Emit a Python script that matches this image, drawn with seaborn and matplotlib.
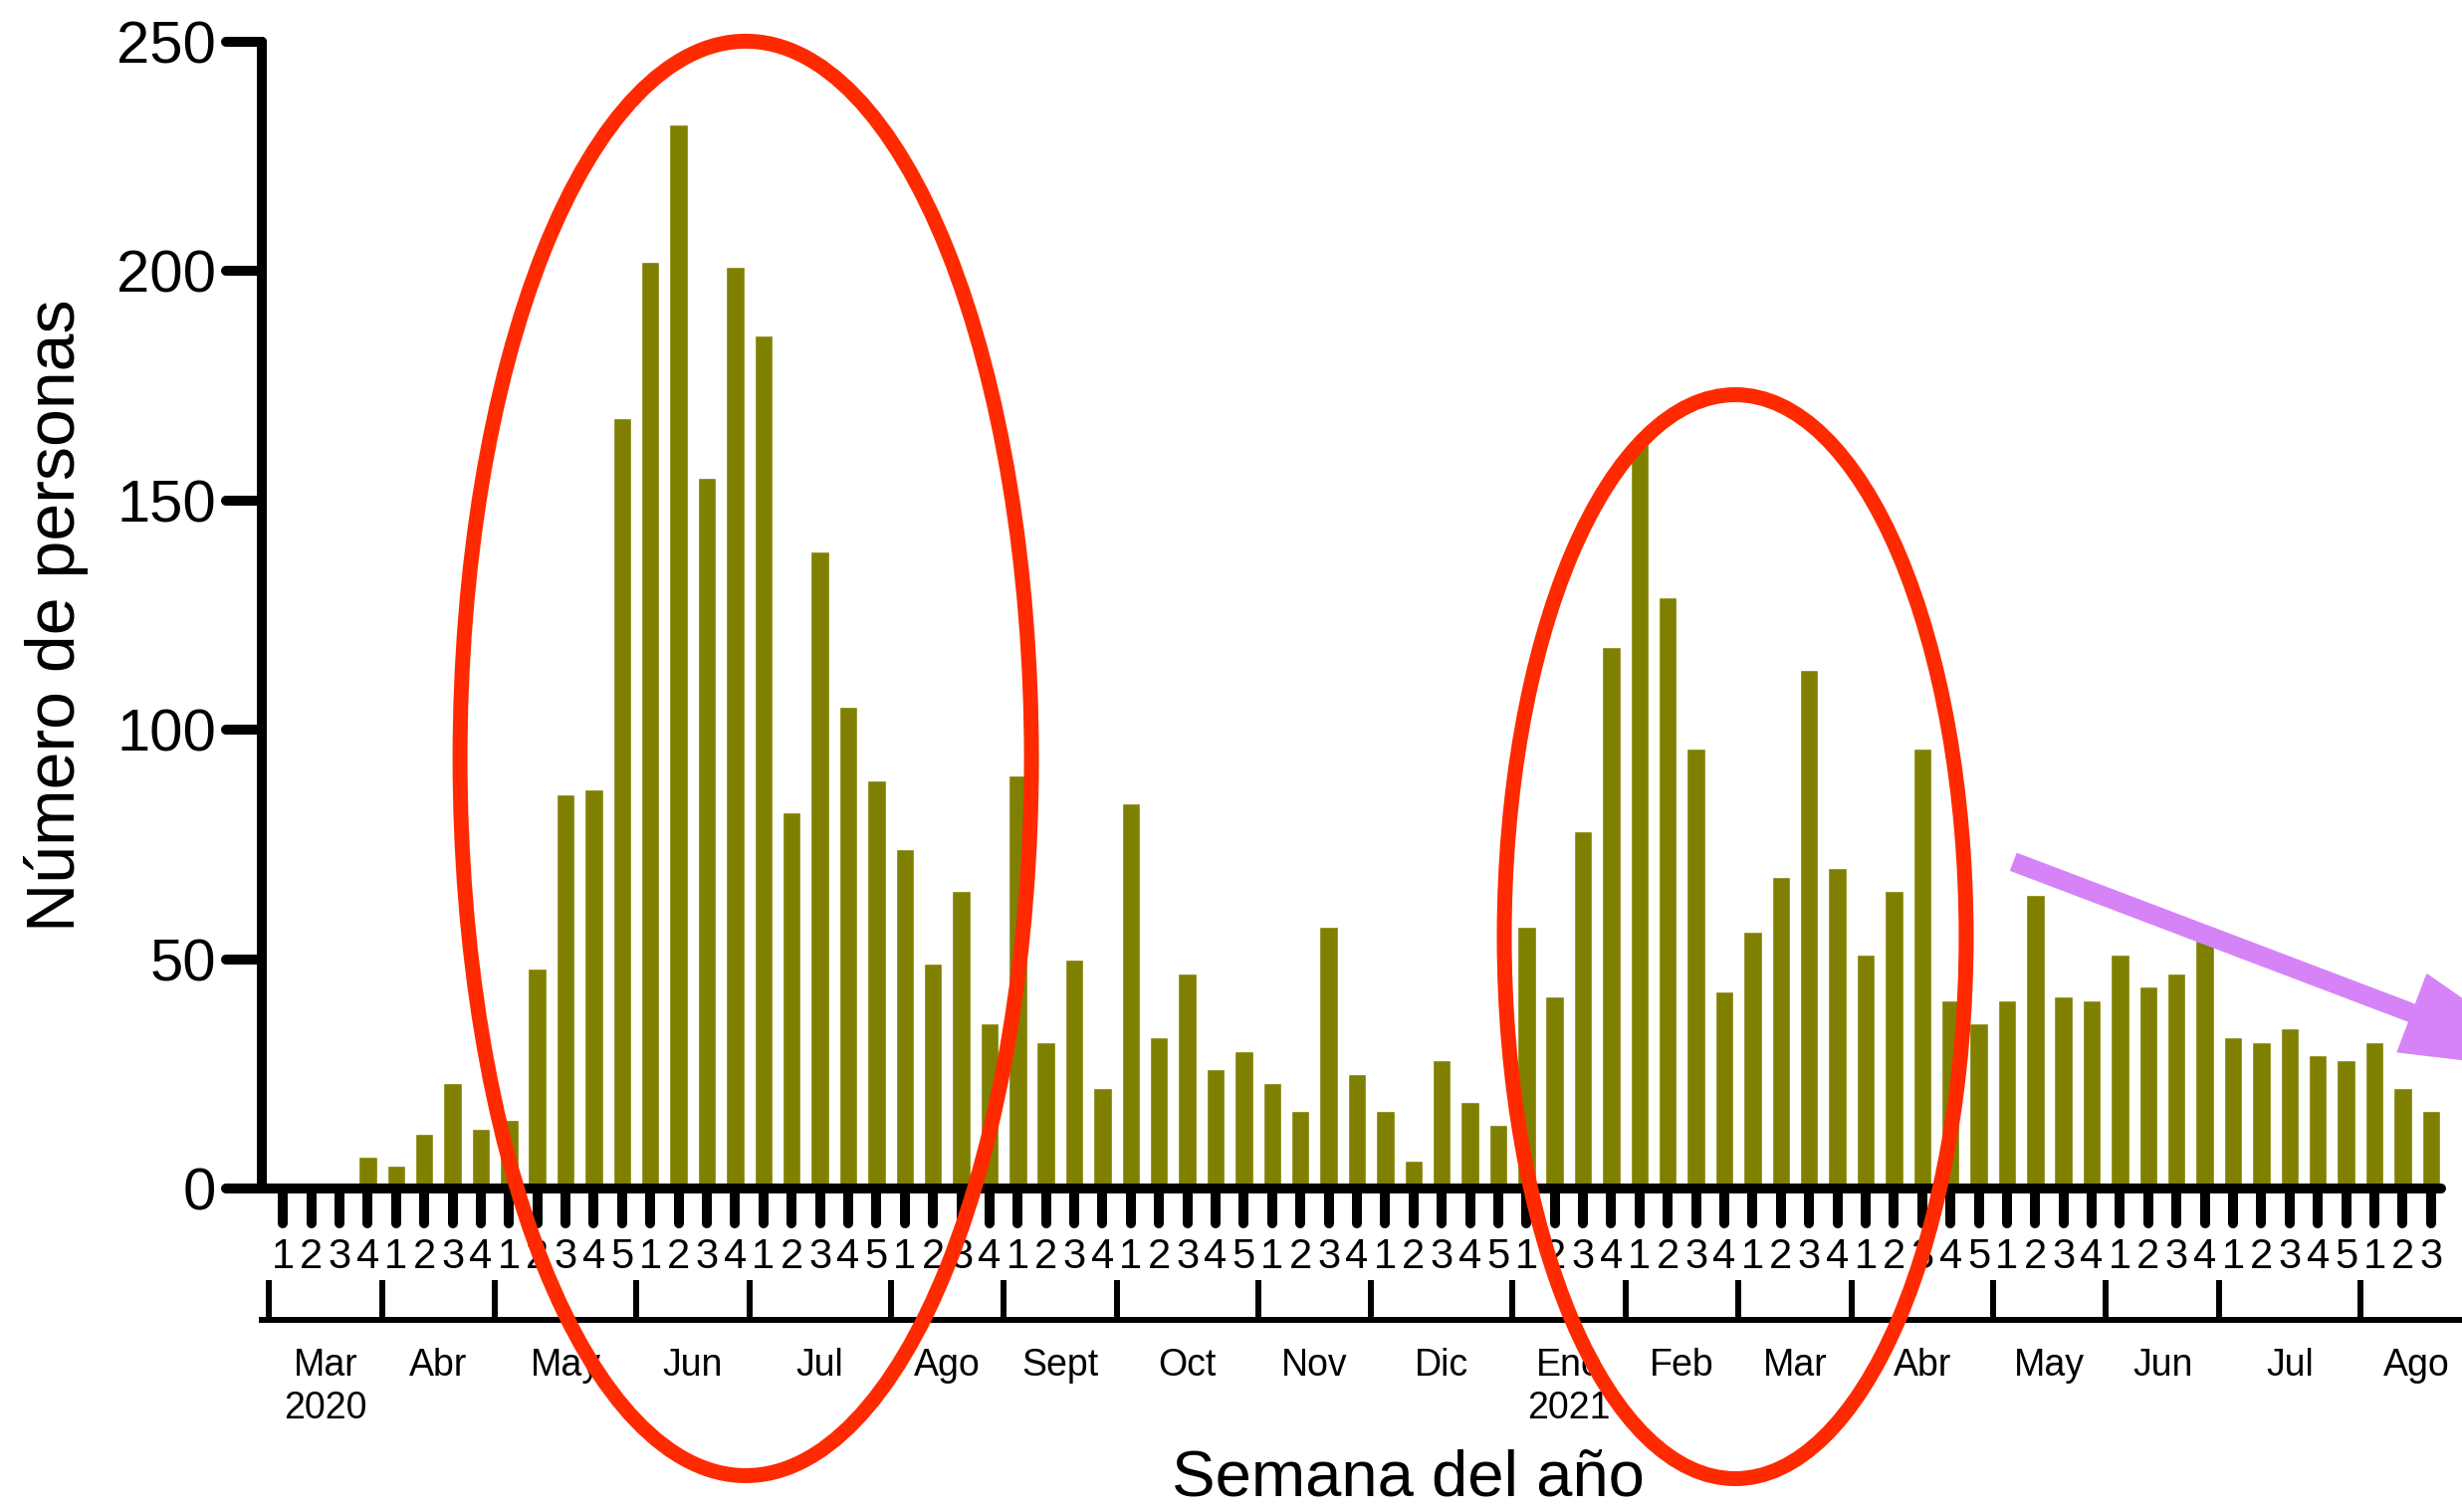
import pandas as pd
import matplotlib.pyplot as plt
import seaborn as sns
from matplotlib.patches import Ellipse, FancyArrowPatch
from matplotlib.markers import MarkerStyle, TICKDOWN, TICKLEFT

# Month names on the lower axis (2020 -> 2021)
months = ["Mar\n2020", "Abr", "May", "Jun", "Jul", "Ago", "Sept", "Oct", "Nov",
          "Dic", "Ene\n2021", "Feb", "Mar", "Abr", "May", "Jun", "Jul", "Ago"]
# weeks shown per month (last month only has 3 weeks of data)
weeks_per_month = [4, 4, 5, 4, 5, 4, 4, 5, 4, 5, 4, 4, 4, 5, 4, 4, 5, 3]
# weeks per month on the month axis
month_span = [4, 4, 5, 4, 5, 4, 4, 5, 4, 5, 4, 4, 4, 5, 4, 4, 5, 4]

# Number of people per week
personas = [0, 0, 0, 7,
            5, 12, 23, 13,
            15, 48, 86, 87, 168,
            202, 232, 155, 201,
            186, 82, 139, 105, 89,
            74, 49, 65, 36,
            90, 32, 50, 22,
            84, 33, 47, 26, 30,
            23, 17, 57, 25,
            17, 6, 28, 19, 14,
            57, 42, 78, 118,
            163, 129, 96, 43,
            56, 68, 113, 70,
            51, 65, 96, 41, 36,
            41, 64, 42, 41,
            51, 44, 47, 54,
            33, 32, 35, 29, 28,
            32, 22, 17]

sns.set_style("ticks", rc={"axes.edgecolor": "black", "xtick.color": "black",
                           "ytick.color": "black", "text.color": "black",
                           "axes.labelcolor": "black"})
plt.rcParams["font.family"] = ["Liberation Sans", "DejaVu Sans"]

week_labels = [str(w) for n in weeks_per_month for w in range(1, n + 1)]
df = pd.DataFrame({"semana": range(len(personas)), "personas": personas})

fig = plt.figure(figsize=(24.73, 15.19), dpi=100)
ax = fig.add_axes([0.1063, 0.2139, 0.8937, 0.7584])

sns.barplot(data=df, x="semana", y="personas", color="#808000",
            saturation=1, width=0.65, ax=ax)

ax.set_xlim(-0.75, 77.1)
ax.set_ylim(0, 250)
ax.set_yticks(range(0, 251, 50))
ax.set_xticks(range(len(personas)))
ax.set_xticklabels(week_labels, fontsize=30)
ax.tick_params(axis="x", length=25, width=7.2, pad=10)
ax.tick_params(axis="y", length=26, width=7.2, labelsize=43, pad=7)

sns.despine(ax=ax)
for side in ["left", "bottom"]:
    ax.spines[side].set_linewidth(7.2)
    ax.spines[side].set_capstyle("round")
ax.spines["left"].set_bounds(0, 250)
ax.spines["bottom"].set_bounds(-0.75, 76.35)

# round ends on the ticks
for t in ax.xaxis.get_major_ticks():
    t.tick1line.set_marker(MarkerStyle(TICKDOWN, capstyle="round"))
for t in ax.yaxis.get_major_ticks():
    t.tick1line.set_marker(MarkerStyle(TICKLEFT, capstyle="round"))

ax.set_ylabel("Número de personas", fontsize=49)
ax.yaxis.set_label_coords(-0.0787, 0.5)
ax.set_xlabel("Semana del año", fontsize=47)
ax.xaxis.set_label_coords(0.521, -0.227)

# month axis underneath the weeks
bounds = [-0.5]
for n in month_span:
    bounds.append(bounds[-1] + n)
centers = [(a + b) / 2 for a, b in zip(bounds[:-1], bounds[1:])]

sec = ax.secondary_xaxis(-0.1146)
sec.set_xticks(bounds)
sec.set_xticks(centers, labels=months, minor=True)
sec.tick_params(which="major", direction="in", length=29, width=4.3, labelbottom=False)
sec.tick_params(which="minor", length=0, labelsize=27, pad=20)
sec.spines["bottom"].set_linewidth(4.3)
for lbl in sec.get_xticklabels(minor=True):
    lbl.set_linespacing(1.25)

# red ellipses marking the two waves
for cx, cy, w, h in [(0.3029, 0.4984, 0.2321, 0.9487), (0.7048, 0.3805, 0.1876, 0.7169)]:
    fig.add_artist(Ellipse((cx, cy), w, h, transform=fig.transFigure, fill=False,
                           ec="#ff2a00", lw=10.8, zorder=10))

# purple arrow showing the downward trend
arrow = FancyArrowPatch((0.818, 0.4299), (1.0428, 0.291), transform=fig.transFigure,
                        arrowstyle="simple,tail_width=13,head_width=60,head_length=120",
                        mutation_scale=1, color="#d683f8", shrinkA=0, shrinkB=0, zorder=11)
fig.add_artist(arrow)

fig.savefig("out.png", dpi=100)
